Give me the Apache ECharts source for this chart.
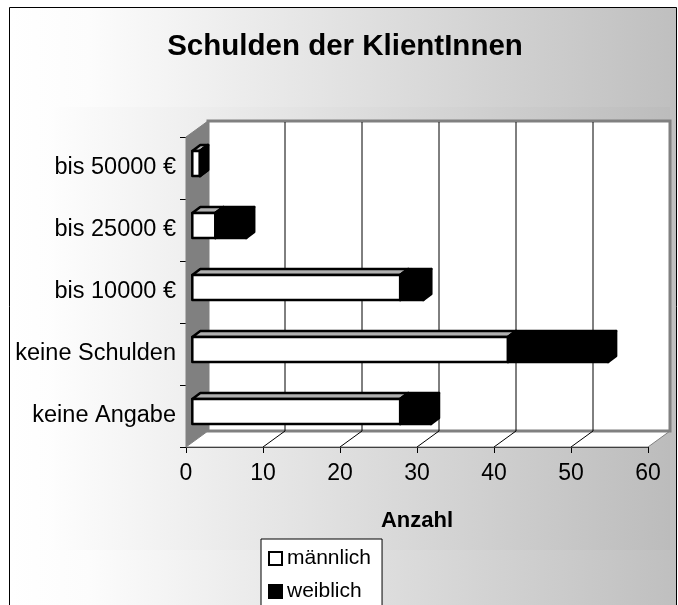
<!DOCTYPE html>
<html><head><meta charset="utf-8">
<style>html,body{margin:0;padding:0;background:#fff}#c{width:678px;height:605px}</style>
<script src="https://cdn.jsdelivr.net/npm/echarts@6/dist/echarts.min.js"></script>
</head><body><div id="c"></div>
<script>
var categories = ['keine Angabe','keine Schulden','bis 10000 €','bis 25000 €','bis 50000 €'];
var maennlich = [27,41,27,3,1];
var weiblich = [4,13,3,4,0];
var xTicks = [0,10,20,30,40,50,60];
var FONT = '"Liberation Sans", Arial, sans-serif';
var WALL = {dx:22, dy:-16}, BAR = {ox:6.3, oy:-4.5, dx:8, dy:-6, h:25};

function grad(stops){return new echarts.graphic.LinearGradient(0,0,1,0,stops);}

function renderWalls(params, api){
  var cs = params.coordSys, L=cs.x, T=cs.y, R=cs.x+cs.width, B=cs.y+cs.height, d=WALL;
  var kids = [
    {type:'polygon',shape:{points:[[L,B],[L,T],[L+d.dx,T+d.dy],[L+d.dx,B+d.dy]]},style:{fill:'#808080',stroke:'#808080',lineWidth:1}},
    {type:'polygon',shape:{points:[[L,B],[R,B],[R+d.dx,B+d.dy],[L+d.dx,B+d.dy]]},style:{fill:'#fff',stroke:'#808080',lineWidth:1}},
    {type:'rect',shape:{x:L+d.dx,y:T+d.dy,width:cs.width,height:cs.height},style:{fill:'#fff',stroke:'#808080',lineWidth:3}}
  ];
  xTicks.forEach(function(t){
    var x = api.coord([t,0])[0];
    if(t>0 && t<60){
      kids.push({type:'line',shape:{x1:x+d.dx,y1:T+d.dy+1,x2:x+d.dx,y2:B+d.dy},style:{stroke:'#000',lineWidth:1}});
      kids.push({type:'line',shape:{x1:x,y1:B,x2:x+d.dx,y2:B+d.dy},style:{stroke:'#000',lineWidth:1}});
    }
  });
  return {type:'group',children:kids};
}
function box(x0,x1,yc,front,top,side,stroke,lw){
  var b=BAR, X0=x0+b.ox, X1=x1+b.ox, Y0=yc+b.oy-b.h/2, Y1=yc+b.oy+b.h/2;
  var st=function(f){return {fill:f,stroke:stroke,lineWidth:lw,lineJoin:'round'};};
  return {type:'group',children:[
    {type:'polygon',shape:{points:[[X0,Y0],[X0+b.dx,Y0+b.dy],[X1+b.dx,Y0+b.dy],[X1,Y0]]},style:st(top)},
    {type:'polygon',shape:{points:[[X1,Y0],[X1+b.dx,Y0+b.dy],[X1+b.dx,Y1+b.dy],[X1,Y1]]},style:st(side)},
    {type:'rect',shape:{x:X0,y:Y0,width:X1-X0,height:Y1-Y0},style:st(front)}
  ]};
}
function renderMale(params, api){
  var i=api.value(0), v=api.value(1);
  var a=api.coord([0,i]), c=api.coord([v,i]);
  return box(a[0],c[0],a[1],'#fff','#b0b0b0','#000','#000',2.5);
}
function renderFemale(params, api){
  var i=api.value(0), v=api.value(1), s=api.value(2);
  var a=api.coord([s,i]), c=api.coord([s+v,i]);
  return box(a[0],c[0],a[1],'#000','#000','#000','#000',2.5);
}
var chart = echarts.init(document.getElementById('c'),null,{renderer:'canvas'});
chart.setOption({
  animation:false,
  backgroundColor:'#fff',
  textStyle:{fontFamily:FONT},
  title:{text:'Schulden der KlientInnen',left:345,textAlign:'center',top:32,padding:0,
    textStyle:{fontFamily:FONT,fontWeight:'bold',fontSize:29.5,color:'#000'}},
  graphic:{elements:[
    {type:'rect',z:-10,silent:true,shape:{x:9.5,y:7.5,width:667,height:610},
      style:{fill:grad([{offset:0,color:'#ffffff'},{offset:0.12,color:'#fcfcfc'},{offset:1,color:'#bfbfbf'}]),stroke:'#000',lineWidth:1}},
    {type:'rect',z:-9,silent:true,shape:{x:54,y:107,width:616,height:443},
      style:{fill:grad([{offset:0,color:'#fdfdfd'},{offset:1,color:'#bcbcbc'}])}}
  ]},
  legend:{left:261,top:539,height:90,orient:'vertical',padding:[9,11,8,7],itemGap:12,itemWidth:13,itemHeight:13,
    backgroundColor:'#fff',borderColor:'#000',borderWidth:1,
    data:[{name:'männlich',icon:'rect',itemStyle:{color:'#fff',borderColor:'#000',borderWidth:2}},
          {name:'weiblich',icon:'rect',itemStyle:{color:'#000',borderColor:'#000',borderWidth:2}}],
    textStyle:{fontFamily:FONT,fontSize:21,color:'#000'},selectedMode:false},
  grid:{left:186,top:137,width:462,height:310,containLabel:false,outerBoundsMode:'none'},
  xAxis:{type:'value',min:0,max:60,interval:10,
    name:'Anzahl',nameLocation:'middle',nameGap:63,
    nameTextStyle:{fontFamily:FONT,fontWeight:'bold',fontSize:22,color:'#000'},
    axisLine:{show:true,lineStyle:{color:'#000',width:1}},
    axisTick:{show:true,length:6,lineStyle:{color:'#000'}},
    axisLabel:{fontFamily:FONT,fontSize:23,color:'#000',margin:15,showMinLabel:true,showMaxLabel:true},
    splitLine:{show:false}},
  yAxis:{type:'category',data:categories,
    axisLine:{show:true,onZero:false,lineStyle:{color:'#000',width:1}},
    axisTick:{show:true,length:6,lineStyle:{color:'#000'}},
    axisLabel:{fontFamily:FONT,fontSize:23.5,color:'#000',margin:10,interval:0},
    splitLine:{show:false}},
  series:[
    {type:'custom',name:'wand',silent:true,z:1,renderItem:renderWalls,data:[[0,0]],encode:{x:0,y:1},clip:false},
    {type:'custom',name:'männlich',z:2,renderItem:renderMale,clip:false,
      data:maennlich.map(function(v,i){return [i,v];}),encode:{y:0,x:1},
      itemStyle:{color:'#fff',borderColor:'#000'}},
    {type:'custom',name:'weiblich',z:3,renderItem:renderFemale,clip:false,
      data:weiblich.map(function(v,i){return [i,v,maennlich[i]];}),encode:{y:0,x:1},
      itemStyle:{color:'#000'}}
  ]
});
</script></body></html>
